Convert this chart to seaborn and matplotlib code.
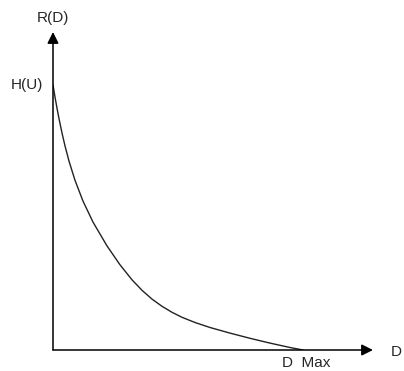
import numpy as np
import pandas as pd
import matplotlib
matplotlib.use('Agg')
import matplotlib.pyplot as plt
import seaborn as sns

# rate-distortion curve, values (arbitrary units)
d_vals = [0, 2, 4, 6, 9, 12, 16, 22, 30, 40, 54, 67, 79, 89, 99, 109,
          119, 129, 142, 157, 177, 197, 217, 237, 250]
r_vals = [265, 253, 241.8, 231.4, 217, 204.1, 188.9, 169.7, 148.9, 127.9, 104.1,
          85.2, 70.2, 59.7, 50.9, 43.7, 37.7, 32.7, 27.5, 22.5, 16.9, 11.7,
          6.9, 2.5, 0]

x_label = 'D'
y_label = 'R(D)'
top_label = 'H(U)'
end_label = 'D  Max'

sns.set_style('white')
plt.rcParams['font.family'] = ['Liberation Sans', 'DejaVu Sans']

W, H = 404, 371
fig = plt.figure(figsize=(W / 100, H / 100), dpi=100)
ax = fig.add_axes([53 / W, 21 / H, 320 / W, 318 / H])

df = pd.DataFrame({'D': d_vals, 'R': r_vals})
sns.lineplot(data=df, x='D', y='R', ax=ax, color='#222222', lw=1.0)

ax.set_xlim(0, 320)
ax.set_ylim(0, 318)
ax.set_xticks([])
ax.set_yticks([])
ax.set_xlabel('')
ax.set_ylabel('')
for s in ax.spines.values():
    s.set_visible(False)

# axis arrows
arr = dict(arrowstyle='-|>', color='black', lw=1.1, mutation_scale=17,
           shrinkA=0, shrinkB=0)
ax.annotate('', xy=(1, 0), xytext=(0, 0), xycoords='axes fraction', arrowprops=arr)
ax.annotate('', xy=(0, 1), xytext=(0, 0), xycoords='axes fraction', arrowprops=arr)

fs = 11
fig.text(53 / W, 1 - 18 / H, y_label, ha='center', va='center', fontsize=fs)
fig.text(43 / W, 1 - 85 / H, top_label, ha='right', va='center', fontsize=fs)
fig.text(282 / W, 1 - 363 / H, end_label, ha='left', va='center', fontsize=fs)
fig.text(391 / W, 1 - 352 / H, x_label, ha='left', va='center', fontsize=fs)

fig.savefig('out.png', dpi=100)
